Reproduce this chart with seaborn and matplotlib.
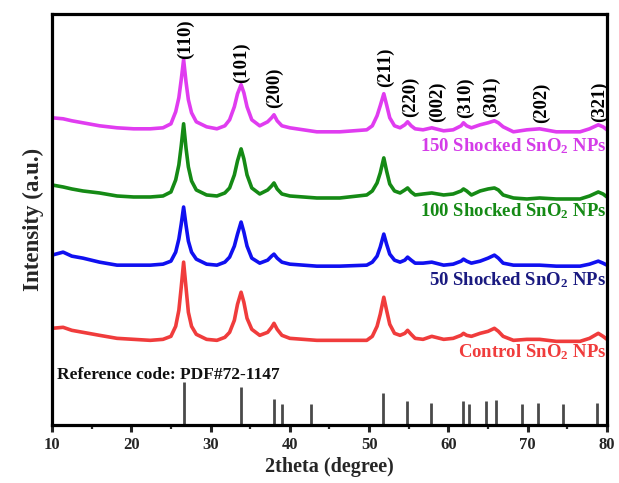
import matplotlib
matplotlib.use("Agg")
import matplotlib.pyplot as plt
from matplotlib.ticker import MultipleLocator
import pandas as pd
import seaborn as sns

# 2theta sampling positions (degree)
two_theta = [10.0, 11.4, 12.5, 13.9, 16.0, 18.2, 20.3, 22.4, 24.0, 25.0,
             25.6, 26.0, 26.3, 26.6, 26.9, 27.2, 27.6, 28.2, 29.5, 30.8,
             31.8, 32.4, 33.0, 33.4, 33.85, 34.2, 34.6, 35.2, 36.2, 37.2,
             37.7, 38.0, 38.4, 39.0, 40.0, 43.4, 46.3, 49.7, 50.4, 51.0,
             51.4, 51.85, 52.2, 52.6, 53.2, 53.9, 54.5, 54.85, 55.3, 55.8,
             56.8, 57.9, 59.4, 60.6, 61.6, 61.9, 62.3, 62.9, 64.0, 65.0,
             65.8, 66.3, 66.9, 68.2, 69.9, 71.5, 73.6, 76.6, 77.8, 78.9,
             79.5, 80.0]

# Stacked intensities (a.u.)
control = [96, 97, 94, 92, 89, 86, 85, 84, 85, 88,
           98, 114, 137, 162, 137, 112, 98, 90, 85, 84,
           87, 92, 104, 120, 132, 122, 106, 95, 89, 92,
           97, 101, 95, 89, 86, 84, 84, 84, 88, 98,
           110, 127, 114, 100, 91, 89, 91, 94, 90, 86,
           85, 88, 85, 86, 89, 91, 89, 88, 91, 93,
           96, 93, 88, 84, 85, 85, 83, 83, 86, 91,
           88, 85]
shocked_50 = [169, 172, 168, 166, 162, 159, 159, 159, 160, 163,
              172, 185, 200, 217, 199, 183, 172, 165, 160, 159,
              162, 167, 178, 190, 202, 192, 178, 166, 161, 164,
              168, 170, 166, 162, 160, 158, 158, 159, 162, 168,
              177, 190, 180, 170, 164, 162, 164, 167, 164, 161,
              161, 162, 159, 160, 163, 165, 163, 161, 163, 166,
              169, 166, 161, 159, 159, 159, 158, 158, 160, 163,
              161, 159]
shocked_100 = [239, 237, 235, 233, 231, 228, 227, 227, 228, 232,
               244, 259, 278, 300, 276, 257, 243, 234, 229, 228,
               231, 236, 249, 263, 275, 265, 249, 236, 230, 234,
               238, 241, 235, 230, 228, 226, 226, 229, 233, 241,
               251, 266, 253, 240, 233, 231, 234, 236, 232, 229,
               230, 231, 229, 230, 233, 235, 233, 229, 233, 235,
               236, 234, 229, 226, 225, 226, 225, 225, 228, 232,
               230, 227]
shocked_150 = [306, 305, 303, 301, 298, 296, 295, 295, 296, 300,
               312, 326, 344, 364, 342, 324, 311, 302, 297, 295,
               298, 304, 317, 330, 339, 331, 317, 304, 298, 302,
               306, 309, 303, 298, 296, 292, 292, 294, 298, 308,
               318, 330, 319, 306, 298, 296, 299, 302, 298, 295,
               294, 296, 293, 294, 298, 301, 298, 296, 299, 301,
               303, 301, 297, 292, 294, 295, 292, 292, 295, 299,
               297, 294]

# Standard pattern PDF#72-1147 (position, stick height)
ref_pos = [26.6, 33.9, 38.0, 39.0, 42.7, 51.8, 54.8, 57.8, 61.9, 62.6,
           64.7, 66.0, 69.3, 71.3, 74.5, 78.7]
ref_height = [42, 37, 25, 21, 21, 31, 23, 22, 23, 21, 23, 24, 21, 22, 21, 22]

# Miller indices (label, position, label base)
hkl_text = ["(110)", "(101)", "(200)", "(211)", "(220)", "(002)", "(310)", "(301)", "(202)", "(321)"]
hkl_pos = [26.8, 33.9, 38.0, 52.0, 55.2, 58.6, 62.1, 65.4, 71.7, 79.0]
hkl_base = [365, 341, 316, 337, 307, 302, 306, 307, 301, 302]

sample_names = ["Control", "50 Shocked", "100 Shocked", "150 Shocked"]
line_colors = ["#f03c3c", "#1010f0", "#158a15", "#e03cf0"]
label_colors = ["#f03c3c", "#1a1a80", "#158a15", "#d43ce8"]
label_text = ["Control SnO$_2$ NPs", "50 Shocked SnO$_2$ NPs",
              "100 Shocked SnO$_2$ NPs", "150 Shocked SnO$_2$ NPs"]
label_y = [72, 144, 213, 278]

sns.set_theme(style="ticks")
plt.rcParams["font.family"] = ["Liberation Serif", "DejaVu Serif"]
plt.rcParams["font.weight"] = "bold"
plt.rcParams["axes.labelweight"] = "bold"
plt.rcParams["mathtext.fontset"] = "custom"
plt.rcParams["mathtext.rm"] = "Liberation Serif:bold"
plt.rcParams["mathtext.bf"] = "Liberation Serif:bold"
plt.rcParams["mathtext.it"] = "Liberation Serif:bold"
plt.rcParams["mathtext.default"] = "bf"

series = [control, shocked_50, shocked_100, shocked_150]
frames = []
for name, vals in zip(sample_names, series):
    assert len(vals) == len(two_theta)
    frames.append(pd.DataFrame({"two_theta": two_theta, "intensity": vals, "sample": name}))
df = pd.concat(frames, ignore_index=True)

fig = plt.figure(figsize=(6.19, 4.83), dpi=100)
ax = fig.add_axes([0.084, 0.121, 0.8966, 0.851])

sns.lineplot(data=df, x="two_theta", y="intensity", hue="sample",
             palette=dict(zip(sample_names, line_colors)), estimator=None,
             sort=False, linewidth=2.6, legend=False, ax=ax)

ax.vlines(ref_pos, 0, ref_height, colors="#4a4a4a", linewidth=2.0)

for t, x, y in zip(hkl_text, hkl_pos, hkl_base):
    ax.text(x, y, t, rotation=90, ha="center", va="bottom", fontsize=13.5,
            fontweight="bold", color="black")

for t, y, c in zip(label_text, label_y, label_colors):
    ax.text(79.9, y, t, ha="right", va="center", fontsize=13.5,
            fontweight="bold", color=c)

ax.text(10.6, 49.5, "Reference code: PDF#72-1147", ha="left", va="center",
        fontsize=12.5, fontweight="bold", color="#111111")

ax.set_xlim(10, 80)
ax.set_ylim(0, 410)
ax.set_yticks([])
ax.xaxis.set_major_locator(MultipleLocator(10))
ax.xaxis.set_minor_locator(MultipleLocator(5))
ax.tick_params(axis="x", which="major", direction="out", length=5, width=2.2,
               labelsize=12, pad=4, top=False)
ax.tick_params(axis="x", which="minor", direction="out", length=3, width=1.6, top=False)
for lab in ax.get_xticklabels():
    lab.set_fontweight("bold")
for s in ax.spines.values():
    s.set_visible(True)
    s.set_linewidth(2.3)
    s.set_color("black")

ax.set_xlabel("2theta (degree)", fontsize=14.5, fontweight="bold", labelpad=3)
ax.set_ylabel("Intensity (a.u.)", fontsize=16.5, fontweight="bold", labelpad=6)

fig.savefig("out.png", dpi=100)
